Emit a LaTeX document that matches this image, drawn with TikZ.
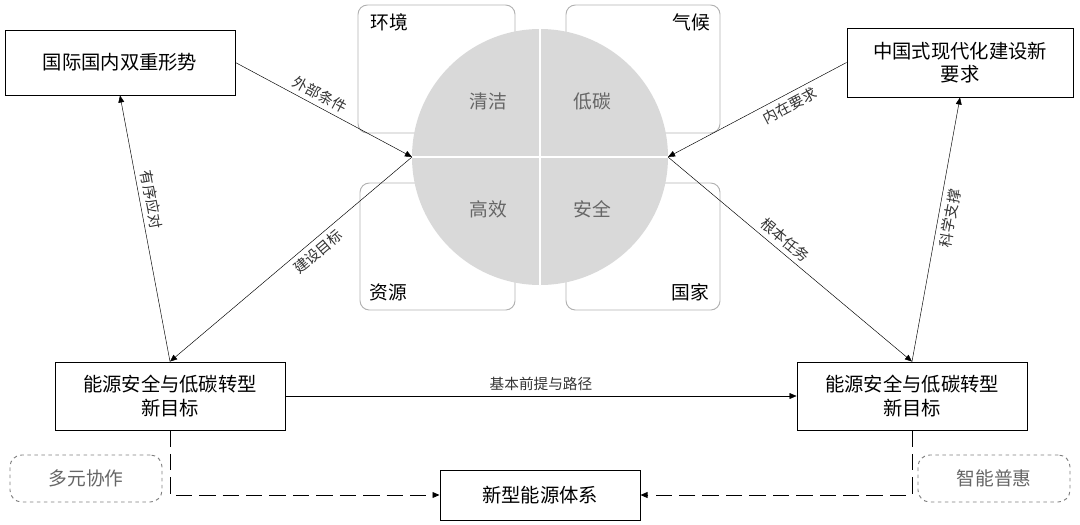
\documentclass[tikz,border=0pt]{standalone}
\usepackage{fontspec}
\setmainfont{Noto Sans CJK SC}
\usetikzlibrary{arrows.meta}
\begin{document}
\begin{tikzpicture}[x=0.03cm,y=-0.03cm,
 box/.style={draw,thick,fill=white,align=center,font=\fontsize{16.5}{20}\selectfont,inner sep=0},
 pal/.style={draw=gray!60,thick,rounded corners=8pt},
 dbox/.style={draw=gray,thick,dashed,rounded corners=10pt,align=center,text=gray!80!black,font=\fontsize{16}{19}\selectfont,inner sep=0},
 arr/.style={-{Triangle[length=6pt,width=5pt]},thin},
 darr/.style={-{Triangle[length=6pt,width=5pt]},thick,dash pattern=on 14pt off 6pt},
 lab/.style={font=\fontsize{12.5}{15}\selectfont,text=black!80,inner sep=4pt},
 ql/.style={font=\fontsize{16}{19}\selectfont,text=black!60},
 cl/.style={font=\fontsize{16}{19}\selectfont}]
\useasboundingbox (0,0) rectangle (1080,524);
% background panels
\draw[pal] (358,5) rectangle (515,133);
\draw[pal] (566,5) rectangle (720,133);
\draw[pal] (360,183) rectangle (515,310);
\draw[pal] (566,183) rectangle (720,310);
\node[cl] (hj) at (389,22) {环境};
\node[cl] (qh) at (691,22) {气候};
\node[cl] (zy) at (388,292) {资源};
\node[cl] (gj) at (690,292) {国家};
% circle
\fill[gray!30] (540,157) circle [radius=128];
\draw[white,line width=2pt] (540,29) -- (540,285) (412,157) -- (668,157);
\coordinate (cl) at (412,157);
\coordinate (cr) at (668,157);
\node[ql] (q1) at (488,101) {清洁};
\node[ql] (q2) at (592,101) {低碳};
\node[ql] (q3) at (488,209) {高效};
\node[ql] (q4) at (592,209) {安全};
% boxes
\node[box,minimum width=230*0.03cm,minimum height=65*0.03cm] (b1) at (120,62.5) {国际国内双重形势};
\node[box,minimum width=226*0.03cm,minimum height=69*0.03cm] (b2) at (960,62.5) {中国式现代化建设新\\要求};
\node[box,minimum width=230*0.03cm,minimum height=68*0.03cm] (b3) at (170,396) {能源安全与低碳转型\\新目标};
\node[box,minimum width=230*0.03cm,minimum height=68*0.03cm] (b4) at (912,396) {能源安全与低碳转型\\新目标};
\node[box,minimum width=200*0.03cm,minimum height=50*0.03cm] (b5) at (540,495) {新型能源体系};
\node[dbox,minimum width=152*0.03cm,minimum height=47*0.03cm] (d1) at (86,478.5) {多元协作};
\node[dbox,minimum width=152*0.03cm,minimum height=47*0.03cm] (d2) at (994,478.5) {智能普惠};
% arrows
\draw[arr] (b1.east) -- (cl) node[lab,pos=0.45,above,sloped] {外部条件};
\draw[arr] (b2.west) -- (cr) node[lab,pos=0.35,below,sloped] {内在要求};
\draw[arr] (cl) -- (b3.north) node[lab,pos=0.42,below,sloped] {建设目标};
\draw[arr] (cr) -- (b4.north) node[lab,pos=0.45,above,sloped] {根本任务};
\draw[arr] (b3.north) -- (b1.south) node[lab,pos=0.6,above,sloped] {有序应对};
\draw[arr] (b4.north) -- (b2.south) node[lab,pos=0.55,below,sloped] {科学支撑};
\draw[arr] (b3.east) -- (b4.west) node[lab,midway,above] {基本前提与路径};
\draw[darr] (b3.south) -- (170,495) -- (b5.west);
\draw[darr] (b4.south) -- (912,495) -- (b5.east);
\end{tikzpicture}
\end{document}
